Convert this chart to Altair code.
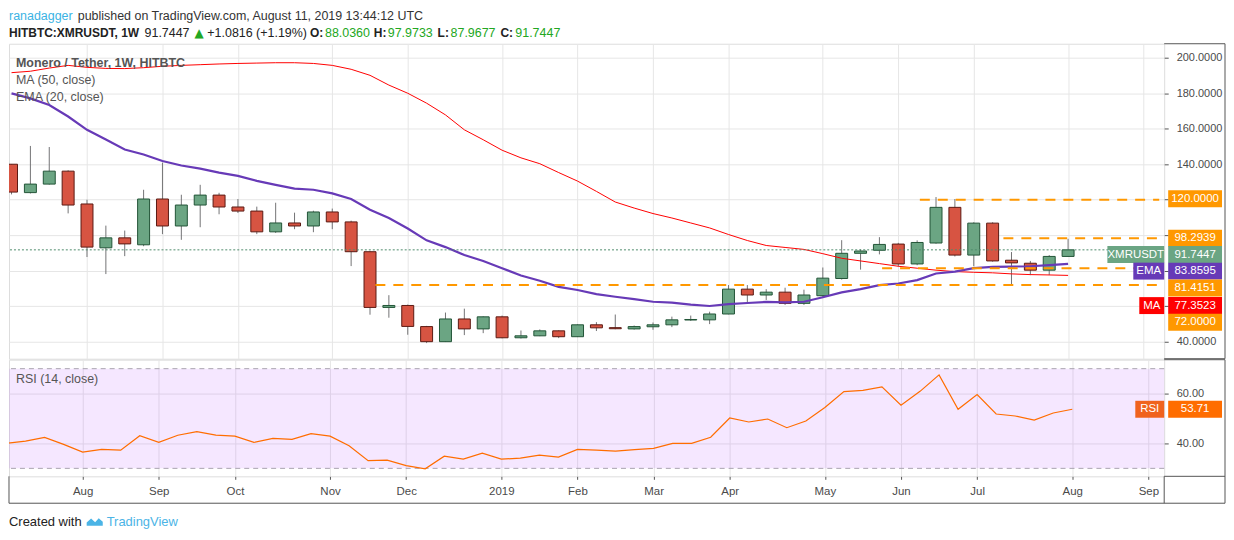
import altair as alt
import pandas as pd

# ------------------------------------------------------------------ data
week_dates = pd.date_range("2018-07-09", periods=57, freq="7D").strftime("%Y-%m-%d").tolist()

opens = [140.0, 124.0, 128.8, 136.1, 117.6, 92.9, 98.5, 94.6, 120.4, 105.2,
         117.0, 122.6, 115.9, 113.6, 101.9, 106.9, 105.2, 113.1, 107.5, 90.7,
         59.3, 60.4, 48.5, 40.0, 52.8, 47.2, 54.0, 42.2, 43.3, 46.1,
         42.8, 49.5, 47.9, 47.2, 48.4, 49.5, 52.2, 52.3, 55.6, 69.6,
         66.3, 67.9, 61.6, 65.9, 75.6, 89.8, 91.5, 95.0, 83.8, 95.6,
         115.7, 88.8, 106.8, 85.9, 84.2, 80.3, 88.0360]
highs = [140.0, 150.3, 149.7, 136.6, 120.0, 105.4, 102.6, 125.6, 140.9, 122.8,
         128.4, 123.9, 120.4, 116.1, 118.3, 112.7, 113.8, 115.0, 108.2, 90.9,
         66.2, 60.9, 48.9, 56.4, 58.6, 54.3, 54.7, 46.3, 46.9, 46.4,
         49.8, 51.0, 55.3, 49.1, 50.8, 54.1, 54.7, 56.9, 71.9, 71.9,
         69.6, 70.4, 69.3, 81.8, 97.2, 92.0, 98.9, 95.7, 97.1, 121.5,
         120.4, 107.3, 107.3, 90.5, 85.5, 88.8, 97.9733]
lows = [123.0, 123.5, 128.5, 112.3, 87.7, 78.1, 88.2, 93.8, 100.6, 97.4,
        104.5, 111.8, 112.5, 100.6, 101.3, 103.4, 101.7, 103.4, 82.6, 55.2,
        53.5, 43.9, 39.2, 39.8, 43.7, 44.8, 41.9, 41.8, 43.1, 42.0,
        42.6, 46.0, 47.0, 46.8, 46.7, 48.2, 51.7, 49.9, 55.4, 62.3,
        63.5, 60.7, 60.7, 65.0, 75.0, 80.6, 89.2, 82.3, 83.1, 95.2,
        88.0, 82.5, 85.1, 72.1, 77.5, 77.5, 87.9677]
closes = [124.3, 128.8, 136.1, 117.0, 93.3, 98.5, 95.1, 120.4, 105.2, 117.0,
          122.6, 115.9, 113.6, 101.9, 106.9, 105.2, 113.1, 107.5, 90.7, 59.3,
          60.4, 48.6, 40.0, 52.8, 47.2, 54.0, 42.2, 43.3, 46.1, 42.8,
          49.5, 47.8, 47.3, 48.5, 49.5, 52.3, 52.5, 55.6, 69.6, 66.3,
          67.9, 61.6, 66.3, 75.8, 89.8, 91.1, 94.8, 83.8, 95.9, 115.7,
          88.8, 106.8, 85.5, 84.4, 80.3, 88.04, 91.7447]
ma50 = [191.6, 192.4, 194.2, 195.7, 194.6, 194.0, 193.9, 194.4, 195.2, 195.7,
        196.1, 196.5, 196.8, 197.0, 197.2, 197.2, 196.8, 195.7, 193.5, 190.1,
        184.6, 180.0, 174.4, 167.8, 159.4, 153.8, 147.9, 143.6, 140.3, 135.3,
        130.5, 124.7, 118.7, 115.3, 112.2, 109.7, 106.9, 104.1, 100.4, 97.0,
        94.2, 93.1, 92.0, 89.6, 87.0, 85.5, 84.0, 82.5, 81.4, 80.3,
        79.5, 79.1, 78.8, 78.2, 77.8, 77.6, 77.3523]
ema20 = [179.9, 177.1, 173.4, 166.9, 159.4, 153.9, 148.3, 145.5, 141.8, 139.3,
         137.5, 135.3, 133.4, 130.6, 128.4, 126.3, 125.6, 123.6, 120.4, 114.4,
         109.7, 103.8, 97.1, 93.3, 88.8, 85.5, 81.4, 77.3, 74.3, 70.9,
         69.1, 66.8, 65.3, 64.0, 62.5, 62.0, 60.9, 60.1, 61.2, 61.8,
         62.4, 62.2, 62.5, 65.0, 67.8, 69.6, 71.9, 72.8, 74.7, 78.4,
         79.5, 81.4, 82.1, 82.3, 82.5, 83.1, 83.8595]
rsi14 = [40.1, 40.9, 42.4, 39.6, 36.5, 37.6, 37.3, 43.1, 40.4, 43.3,
         44.7, 43.3, 42.9, 40.4, 42.0, 41.6, 43.9, 42.9, 39.1, 33.1,
         33.3, 31.1, 29.8, 34.9, 33.7, 36.1, 33.7, 34.1, 35.3, 34.5,
         37.6, 37.3, 36.9, 37.5, 38.0, 40.0, 40.0, 42.5, 50.2, 48.6,
         49.8, 46.3, 49.0, 54.4, 60.8, 61.3, 62.7, 55.3, 60.9, 67.5,
         53.7, 59.6, 51.8, 51.0, 49.4, 52.2, 53.71]

month_ticks = ["2018-08-06", "2018-09-03", "2018-10-01", "2018-11-05", "2018-12-03",
               "2019-01-07", "2019-02-04", "2019-03-04", "2019-04-01", "2019-05-06",
               "2019-06-03", "2019-07-01", "2019-08-05", "2019-09-02"]
price_ticks = [40, 60, 80, 100, 120, 140, 160, 180, 200]
rsi_ticks = [40, 60]

level_values = [120.0, 98.2939, 81.4151, 72.0]
level_starts = ["2019-06-11", "2019-07-12", "2019-05-28", "2018-11-21"]
rsi_band = [30, 70]
last_price = closes[-1]
change_text = "+1.0816 (+1.19%)"

# ------------------------------------------------------------------ helpers
WEEK = 7 * 24 * 3600 * 1000


def ms(d):
    return int(pd.Timestamp(d, tz="UTC").value // 1_000_000)


x_dom = [ms("2018-07-09") + int(0.13 * WEEK), ms("2019-09-02") + int(0.83 * WEEK)]
tick_ms = [ms(d) for d in month_ticks]

W = 1159
H1 = 316
H2 = 117
FONT = "Liberation Sans"
GRID = "#E6E6E6"
FRAME = "#555555"

xscale = alt.Scale(type="utc", domain=x_dom)
x_axis_main = alt.Axis(values=tick_ms, grid=True, gridColor=GRID, labels=False, ticks=False,
                       domain=False, title=None)
month_expr = ("utcFormat(datum.value, '%m') == '01' ? utcFormat(datum.value, '%Y') : "
              "utcFormat(datum.value, '%b')")
x_axis_rsi = alt.Axis(values=tick_ms, grid=True, gridColor=GRID, labelExpr=month_expr,
                      tickSize=3, tickColor=FRAME, labelColor="#4a4a4a", labelFont=FONT,
                      labelFontSize=11.5, labelPadding=6, domain=False, title=None)

yscale = alt.Scale(domain=[30.4, 207.9], nice=False, zero=False)
y_axis_main = alt.Axis(orient="right", values=price_ticks, grid=True, gridColor=GRID,
                       labelExpr="indexof([60, 80, 100, 120], datum.value) >= 0 ? '' : format(datum.value, '.4f')",
                       tickSize=4, tickColor=FRAME, labelColor="#4a4a4a", labelFont=FONT,
                       labelFontSize=11, labelPadding=8, domain=False, title=None)
rscale = alt.Scale(domain=[26.8, 73.6], nice=False, zero=False)
y_axis_rsi = alt.Axis(orient="right", values=rsi_ticks, grid=True, gridColor=GRID, format=".2f",
                      tickSize=4, tickColor=FRAME, labelColor="#4a4a4a", labelFont=FONT,
                      labelFontSize=11, labelPadding=8, domain=False, title=None)

one = pd.DataFrame({"a": [0]})


def px_rule(x, x2, y, y2, color=FRAME, width=1):
    return alt.Chart(one).mark_rule(color=color, strokeWidth=width).encode(
        x=alt.value(x), x2=alt.value(x2), y=alt.value(y), y2=alt.value(y2))


def px_text(txt, x, y, color="#333333", size=12, weight="normal", align="left", font=FONT):
    return alt.Chart(one).mark_text(text=txt, color=color, fontSize=size, fontWeight=weight,
                                    align=align, baseline="middle", font=font).encode(
        x=alt.value(x), y=alt.value(y))


def value_tag(val, color, dy, scale, axis, fmt=".4f"):
    d = pd.DataFrame({"v": [val], "t": [format(val, fmt)]})
    base = alt.Chart(d).encode(y=alt.Y("v:Q", scale=scale, axis=axis))
    box = base.mark_rect(color=color, yOffset=dy - 8.5, y2Offset=dy + 8.5).encode(
        x=alt.value(W + 4), x2=alt.value(W + 58), y2=alt.Y2("v:Q"))
    txt = base.mark_text(color="white", fontSize=11.5, font=FONT, yOffset=dy,
                         align="center", baseline="middle").encode(
        x=alt.value(W + 31), text="t:N")
    return [box, txt]


def name_tag(val, name, color, dy, left, scale, axis):
    d = pd.DataFrame({"v": [val], "t": [name]})
    base = alt.Chart(d).encode(y=alt.Y("v:Q", scale=scale, axis=axis))
    box = base.mark_rect(color=color, yOffset=dy - 8.5, y2Offset=dy + 8.5).encode(
        x=alt.value(W - left), x2=alt.value(W), y2=alt.Y2("v:Q"))
    txt = base.mark_text(color="white", fontSize=11.5, font=FONT, yOffset=dy,
                         align="center", baseline="middle").encode(
        x=alt.value(W - left / 2), text="t:N")
    return [box, txt]


# ------------------------------------------------------------------ frames
df = pd.DataFrame({"date": week_dates, "open": opens, "high": highs, "low": lows,
                   "close": closes, "ma": ma50, "ema": ema20, "rsi": rsi14})
df["dir"] = ["up" if c >= o else "down" for o, c in zip(opens, closes)]

levels = pd.DataFrame({"level": level_values, "start": [ms(s) for s in level_starts],
                       "end": [x_dom[1]] * len(level_values)})
price_df = pd.DataFrame({"price": [last_price]})

X = alt.X("date:T", scale=xscale, axis=x_axis_main)


def Y(field):
    return alt.Y(field, scale=yscale, axis=y_axis_main)


base = alt.Chart(df)

wicks = base.mark_rule(color="#737375", strokeWidth=1, clip=True).encode(
    x=X, y=Y("low:Q"), y2="high:Q")
bodies = base.mark_bar(size=12, strokeWidth=1, clip=True).encode(
    x=X, y=Y("open:Q"), y2="close:Q",
    fill=alt.Fill("dir:N", scale=alt.Scale(domain=["up", "down"], range=["#6BA583", "#D75442"]), legend=None),
    stroke=alt.Stroke("dir:N", scale=alt.Scale(domain=["up", "down"], range=["#225437", "#5B1A13"]), legend=None))
ma_line = base.mark_line(color="#FF0000", strokeWidth=1, clip=True).encode(x=X, y=Y("ma:Q"))
ema_line = base.mark_line(color="#673AB7", strokeWidth=2.2, clip=True).encode(x=X, y=Y("ema:Q"))

price_line = alt.Chart(price_df).mark_rule(color="#4E8C6C", strokeWidth=1, strokeDash=[2, 2]).encode(
    y=Y("price:Q"))
level_lines = alt.Chart(levels).mark_rule(color="#FF9800", strokeWidth=2, strokeDash=[10, 8]).encode(
    x=alt.X("start:T", scale=xscale, axis=x_axis_main), x2="end:T", y=Y("level:Q"))

tags = []
tags += value_tag(level_values[0], "#FF9800", -1, yscale, y_axis_main)
tags += value_tag(level_values[1], "#FF9800", 0, yscale, y_axis_main)
tags += value_tag(last_price, "#6BA583", 4.7, yscale, y_axis_main)
tags += name_tag(last_price, "XMRUSDT", "#6BA583", 4.7, 57, yscale, y_axis_main)
tags += value_tag(ema20[-1], "#673AB7", 7.3, yscale, y_axis_main)
tags += name_tag(ema20[-1], "EMA", "#673AB7", 7.3, 31, yscale, y_axis_main)
tags += value_tag(level_values[2], "#FF9800", 19.9, yscale, y_axis_main)
tags += value_tag(ma50[-1], "#FF0000", 30.3, yscale, y_axis_main)
tags += name_tag(ma50[-1], "MA", "#FF0000", 30.3, 25, yscale, y_axis_main)
tags += value_tag(level_values[3], "#FF9800", 37.4, yscale, y_axis_main)

green = "#22A722"
dark = "#222222"
header = [
    px_text("ranadagger", 0, -28, color="#3BB3E4", size=12.5),
    px_text("published on TradingView.com, August 11, 2019 13:44:12 UTC", 69, -28, color="#333333", size=12.5),
    px_text("HITBTC:XMRUSDT, 1W", 0, -11, color=dark, size=12, weight="bold"),
    px_text(format(closes[-1], ".4f"), 136, -11, color=dark, size=12.5),
    px_text("▲", 186, -11, color=green, size=12, font="DejaVu Sans"),
    px_text(change_text, 199, -11, color=dark, size=12.5),
    px_text("O:", 302, -11, color=dark, size=12, weight="bold"),
    px_text(format(opens[-1], ".4f"), 317, -11, color=green, size=12.5),
    px_text("H:", 366, -11, color=dark, size=12, weight="bold"),
    px_text(format(highs[-1], ".4f"), 380, -11, color=green, size=12.5),
    px_text("L:", 430, -11, color=dark, size=12, weight="bold"),
    px_text(format(lows[-1], ".4f"), 443, -11, color=green, size=12.5),
    px_text("C:", 493, -11, color=dark, size=12, weight="bold"),
    px_text(format(closes[-1], ".4f"), 508, -11, color=green, size=12.5),
    px_text("Monero / Tether, 1W, HITBTC", 7, 19, color="#555555", size=12.5, weight="bold"),
    px_text("MA (50, close)", 7, 36, color="#555555", size=12.5),
    px_text("EMA (20, close)", 7, 53, color="#555555", size=12.5),
]

frames_main = [
    px_rule(W, W + 61, 0, 0),
    px_rule(W + 61, W + 61, 0, H1),
    px_rule(W, W + 61, H1, H1),
]

main = alt.layer(
    wicks, bodies, ma_line, ema_line, price_line, level_lines,
    *tags, *header, *frames_main
).properties(width=W, height=H1)

# ------------------------------------------------------------------ RSI
XR = alt.X("date:T", scale=xscale, axis=x_axis_rsi)


def YR(field):
    return alt.Y(field, scale=rscale, axis=y_axis_rsi)


band_df = pd.DataFrame({"lo": [rsi_band[0]], "hi": [rsi_band[1]]})
hl_df = pd.DataFrame({"h": rsi_band})

band = alt.Chart(band_df).mark_rect(color="#9915FF", opacity=0.1).encode(
    x=alt.value(0), x2=alt.value(W), y=YR("hi:Q"), y2="lo:Q")
hlines = alt.Chart(hl_df).mark_rule(color="#A9A3B0", strokeWidth=1, strokeDash=[5, 4]).encode(
    y=YR("h:Q"))
rsi_line = base.mark_line(color="#FF6D00", strokeWidth=1.2, clip=True).encode(x=XR, y=YR("rsi:Q"))

rsi_tags = []
rsi_tags += value_tag(rsi14[-1], "#FF6D00", 0, rscale, y_axis_rsi, fmt=".2f")
rsi_tags += name_tag(rsi14[-1], "RSI", "#F0631E", 0, 29, rscale, y_axis_rsi)

frames_rsi = [
    px_rule(W, W + 61, 0, 0),
    px_rule(W + 61, W + 61, 0, H2 + 27),
    px_rule(W, W + 61, H2, H2),
    px_rule(0, 0, H2, H2 + 27),
    px_rule(W, W, H2, H2 + 27),
    px_rule(0, W + 61, H2 + 27, H2 + 27),
]

logo = alt.Chart(one).mark_point(
    shape="M-1,0.45 L-1,0.05 L-0.45,-0.45 L0.05,0.0 L0.5,-0.5 L1,-0.05 L1,0.45 Z",
    filled=True, color="#4BB4E6", size=260, opacity=1).encode(
    x=alt.value(86), y=alt.value(H2 + 46))

footer = [
    px_text("Created with", 0, H2 + 46, color="#222222", size=13),
    logo,
    px_text("TradingView", 98, H2 + 46, color="#4BB4E6", size=13),
    px_text("RSI (14, close)", 7, 19, color="#555555", size=12.5),
]

rsi = alt.layer(
    band, hlines, rsi_line, *rsi_tags, *frames_rsi, *footer
).properties(width=W, height=H2)

chart = alt.vconcat(main, rsi, spacing=1, bounds="flush").properties(
    padding=0, background="white"
).configure_view(stroke=FRAME, strokeWidth=1).configure(font=FONT)

chart.save("out.html", embed_options={"renderer": "svg", "actions": False})
